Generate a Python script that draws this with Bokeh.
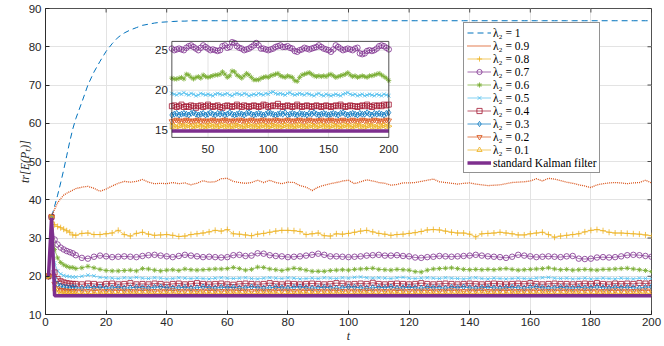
import math
from bokeh.plotting import figure
from bokeh.models import Range1d, FixedTicker
from bokeh.embed import file_html
from bokeh.resources import INLINE
from bokeh.core.properties import value

# ---------------- data ----------------
t = [1, 2, 3, 4, 5, 6, 7, 8, 9, 10] + list(range(12, 201, 2))

lam_10 = [20, 35.5, 38.3, 41.2, 44.4, 47.8, 51.5, 55.2, 58.5, 61.2,
          65.5, 70.0, 73.4, 76.2, 78.8, 80.8, 82.5, 83.6, 84.4, 85.0,
          85.6, 85.9, 86.2, 86.4, 86.5, 86.6, 86.7, 86.7, 86.8, 86.8,
          86.8, 86.8, 86.8, 86.8, 86.8, 86.8, 86.8, 86.8, 86.8, 86.8,
          86.8, 86.8, 86.8, 86.8, 86.8, 86.8, 86.8, 86.8, 86.8, 86.8,
          86.8, 86.8, 86.8, 86.8, 86.8, 86.8, 86.8, 86.8, 86.8, 86.8,
          86.8, 86.8, 86.8, 86.8, 86.8, 86.8, 86.8, 86.8, 86.8, 86.8,
          86.8, 86.8, 86.8, 86.8, 86.8, 86.8, 86.8, 86.8, 86.8, 86.8,
          86.8, 86.8, 86.8, 86.8, 86.8, 86.8, 86.8, 86.8, 86.8, 86.8,
          86.8, 86.8, 86.8, 86.8, 86.8, 86.8, 86.8, 86.8, 86.8, 86.8,
          86.8, 86.8, 86.8, 86.8, 86.8]

lam_09 = [20, 35.5, 37.5, 39.2, 40.3, 41.2, 41.7, 42.1, 42.5, 42.9,
          43.3, 43.5, 43.0, 42.2, 42.8, 43.6, 44.3, 44.8, 44.6, 44.8,
          45.3, 44.6, 44.2, 44.3, 44.2, 44.5, 44.2, 44.4, 43.9, 44.3,
          45.0, 44.6, 44.7, 45.5, 45.6, 44.8, 44.5, 44.3, 44.5, 45.1,
          44.5, 45.1, 44.5, 44.2, 44.6, 44.5, 43.7, 43.3, 42.4, 43.3,
          43.8, 44.2, 44.5, 44.9, 45.1, 44.2, 44.7, 45.2, 44.9, 44.5,
          44.3, 43.8, 44.0, 44.4, 44.4, 44.5, 44.8, 45.1, 45.4, 44.7,
          44.5, 44.3, 44.1, 44.3, 44.4, 44.1, 43.9, 43.7, 43.8, 43.9,
          44.2, 44.5, 44.6, 44.7, 44.9, 45.5, 44.9, 45.6, 45.4, 45.0,
          44.6, 44.3, 43.9, 43.6, 43.2, 43.9, 44.2, 44.4, 44.5, 44.4,
          44.2, 44.4, 44.5, 45.1, 44.4]

lam_08 = [20, 35.5, 33.5, 33.0, 32.7, 32.3, 31.9, 31.5, 30.8, 30.7,
          31.2, 31.3, 30.9, 30.9, 31.1, 31.3, 32.0, 30.9, 30.5, 31.2,
          31.5, 31.0, 30.7, 30.8, 30.9, 30.7, 30.4, 30.5, 30.9, 31.1,
          31.3, 31.6, 32.0, 31.8, 32.2, 31.1, 31.0, 30.8, 30.6, 31.0,
          31.2, 31.5, 31.8, 32.0, 32.0, 31.9, 31.7, 30.9, 31.1, 31.3,
          30.6, 30.5, 31.1, 31.0, 31.2, 31.5, 31.8, 32.0, 31.6, 31.2,
          31.0, 30.7, 30.9, 31.0, 31.2, 31.4, 31.7, 32.1, 32.2, 32.1,
          31.8, 31.5, 31.3, 31.3, 31.0, 30.3, 31.1, 31.2, 31.3, 31.5,
          31.3, 31.1, 30.8, 30.8, 31.1, 31.3, 31.5, 30.9, 30.2, 30.5,
          30.7, 30.9, 31.1, 31.6, 32.0, 32.2, 31.9, 31.5, 31.3, 31.3,
          31.2, 31.1, 31.0, 30.8, 30.6]

lam_07 = [20, 35.5, 29.6, 28.3, 27.5, 27.0, 26.6, 26.3, 26.0, 25.5,
          24.8, 24.6, 25.1, 25.4, 25.2, 25.0, 25.1, 25.2, 25.1, 25.0,
          25.3, 25.5, 25.6, 25.4, 25.2, 25.0, 25.3, 25.6, 25.4, 25.2,
          25.0, 25.1, 25.0, 24.9, 25.0, 25.5, 25.6, 25.3, 25.4, 26.0,
          25.9, 25.5, 25.3, 25.2, 25.0, 25.1, 25.2, 25.4, 25.6, 25.9,
          25.6, 25.2, 25.2, 25.1, 25.0, 25.1, 25.2, 25.4, 25.5, 25.6,
          25.4, 25.4, 25.5, 25.3, 25.2, 24.9, 24.8, 25.0, 25.1, 25.3,
          25.2, 25.1, 25.2, 25.3, 25.4, 25.6, 25.4, 25.2, 25.1, 25.0,
          24.8, 25.1, 25.6, 25.4, 25.2, 25.0, 25.1, 25.2, 25.1, 25.0,
          25.2, 25.3, 24.6, 24.5, 24.6, 24.9, 25.0, 24.9, 25.0, 25.2,
          25.5, 25.6, 25.5, 25.3, 25.1]

lam_06 = [20, 35.5, 27.0, 24.8, 23.6, 23.0, 22.6, 22.3, 22.3, 22.0,
          22.2, 22.6, 22.2, 21.8, 21.5, 21.4, 21.4, 21.5, 21.6, 21.4,
          22.0, 21.9, 21.6, 21.4, 21.6, 21.7, 21.5, 21.9, 21.7, 21.6,
          21.7, 21.8, 21.9, 21.9, 22.0, 22.3, 22.0, 21.6, 21.8, 22.4,
          22.3, 21.9, 21.7, 21.5, 21.8, 22.1, 21.9, 21.6, 21.3, 21.3,
          21.3, 21.5, 21.6, 21.7, 21.6, 21.8, 21.9, 22.0, 22.1, 21.8,
          21.7, 21.6, 21.8, 21.7, 21.6, 21.2, 21.1, 21.6, 21.9, 22.0,
          22.1, 22.2, 22.0, 21.8, 21.7, 21.8, 21.7, 21.8, 21.7, 21.9,
          22.0, 21.8, 21.6, 21.7, 21.8, 21.9, 22.0, 22.2, 21.9, 21.7,
          21.8, 21.6, 21.7, 21.8, 21.7, 21.6, 21.8, 21.8, 21.9, 22.0,
          22.1, 21.9, 21.7, 21.5, 21.2]

lam_05 = [20, 35.5, 23.5, 21.4, 20.6, 20.2, 20.0, 19.9, 19.8, 19.8,
          20.0, 20.3, 20.1, 19.7, 19.6, 19.5, 19.4, 19.6, 19.5, 19.7,
          19.5, 19.4, 19.6, 19.5, 19.3, 19.4, 19.6, 19.5, 19.4, 19.5,
          19.4, 19.3, 19.5, 19.6, 19.5, 19.4, 19.5, 19.6, 19.4, 19.3,
          19.5, 19.6, 19.5, 19.4, 19.6, 19.5, 19.3, 19.4, 19.5, 19.4,
          19.6, 19.5, 19.4, 19.6, 19.5, 19.7, 19.8, 19.6, 19.5, 19.6,
          19.5, 19.4, 19.6, 19.7, 19.5, 19.4, 19.5, 19.6, 19.5, 19.4,
          19.6, 19.5, 19.4, 19.3, 19.5, 19.6, 19.4, 19.3, 19.5, 19.4,
          19.3, 19.4, 19.5, 19.4, 19.3, 19.5, 19.6, 19.7, 19.5, 19.4,
          19.5, 19.3, 19.4, 19.5, 19.3, 19.4, 19.5, 19.4, 19.3, 19.5,
          19.4, 19.3, 19.5, 19.4, 19.3]

lam_04 = [20, 35.5, 21.0, 19.3, 18.7, 18.4, 18.2, 18.1, 18.0, 18.0,
          17.9, 18.1, 18.0, 17.8, 18.0, 18.1, 17.9, 18.0, 18.2, 17.9,
          18.0, 17.9, 18.1, 18.0, 17.8, 18.0, 18.1, 17.9, 18.0, 18.2,
          18.0, 17.9, 18.0, 18.1, 17.9, 17.8, 18.0, 18.1, 18.0, 17.9,
          18.0, 18.2, 18.0, 17.9, 18.1, 18.0, 17.9, 18.0, 18.1, 18.0,
          17.9, 18.0, 18.2, 18.1, 17.9, 18.0, 18.1, 18.0, 18.3, 18.0,
          17.9, 18.0, 18.1, 18.0, 17.9, 18.0, 18.2, 18.0, 17.9, 18.0,
          18.1, 18.0, 17.9, 18.0, 18.1, 18.0, 17.9, 18.0, 18.1, 18.0,
          17.9, 18.0, 18.1, 18.0, 18.2, 18.0, 17.9, 18.0, 18.1, 18.0,
          18.0, 17.9, 18.0, 18.1, 18.0, 18.2, 18.0, 17.9, 18.1, 18.0,
          18.1, 18.0, 18.2, 18.1, 18.2]

lam_03 = [20, 35.5, 19.5, 17.9, 17.4, 17.2, 17.1, 17.0, 17.1, 17.0,
          16.9, 17.1, 17.0, 17.2, 16.9, 17.0, 17.1, 16.9, 17.0, 17.1,
          17.0, 16.9, 17.1, 17.2, 17.0, 16.9, 17.0, 17.1, 16.9, 17.0,
          17.2, 17.0, 16.9, 17.1, 17.0, 17.1, 16.9, 17.0, 17.2, 17.0,
          16.9, 17.0, 17.1, 17.0, 16.9, 17.1, 17.2, 17.0, 16.9, 17.0,
          17.1, 17.0, 16.9, 17.0, 17.2, 17.1, 17.0, 16.9, 17.0, 17.1,
          17.0, 17.2, 16.9, 17.0, 17.1, 17.0, 16.9, 17.1, 17.0, 17.0,
          16.9, 17.1, 17.0, 17.2, 17.0, 16.9, 17.0, 17.1, 17.0, 16.9,
          17.0, 17.1, 17.0, 16.9, 17.1, 17.2, 17.0, 16.9, 17.0, 17.1,
          17.0, 16.9, 17.1, 17.0, 17.0, 17.2, 17.0, 16.9, 17.1, 17.0,
          17.1, 17.0, 16.9, 17.1, 17.2]

lam_02 = [20, 35.5, 18.0, 16.8, 16.4, 16.3, 16.2, 16.2, 16.1, 16.2,
          16.2, 16.1, 16.3, 16.2, 16.1, 16.2, 16.3, 16.2, 16.1, 16.2,
          16.3, 16.2, 16.1, 16.2, 16.2, 16.3, 16.1, 16.2, 16.2, 16.1,
          16.2, 16.3, 16.2, 16.1, 16.2, 16.2, 16.3, 16.2, 16.1, 16.2,
          16.2, 16.1, 16.3, 16.2, 16.2, 16.1, 16.2, 16.3, 16.2, 16.1,
          16.2, 16.2, 16.3, 16.1, 16.2, 16.2, 16.1, 16.3, 16.2, 16.2,
          16.1, 16.2, 16.3, 16.2, 16.1, 16.2, 16.2, 16.3, 16.2, 16.1,
          16.2, 16.3, 16.2, 16.1, 16.2, 16.2, 16.3, 16.1, 16.2, 16.2,
          16.3, 16.2, 16.1, 16.2, 16.2, 16.3, 16.2, 16.1, 16.2, 16.3,
          16.2, 16.1, 16.2, 16.3, 16.2, 16.2, 16.1, 16.2, 16.3, 16.2,
          16.2, 16.1, 16.2, 16.3, 16.2]

lam_01 = [20, 35.5, 16.8, 15.8, 15.6, 15.5, 15.5, 15.5, 15.5, 15.5,
          15.5, 15.4, 15.5, 15.6, 15.5, 15.5, 15.4, 15.5, 15.6, 15.5,
          15.5, 15.6, 15.4, 15.5, 15.5, 15.6, 15.5, 15.4, 15.5, 15.5,
          15.6, 15.5, 15.5, 15.4, 15.5, 15.6, 15.5, 15.5, 15.4, 15.5,
          15.5, 15.6, 15.5, 15.4, 15.5, 15.5, 15.6, 15.5, 15.5, 15.4,
          15.5, 15.5, 15.6, 15.5, 15.4, 15.5, 15.6, 15.5, 15.5, 15.4,
          15.5, 15.6, 15.5, 15.5, 15.4, 15.5, 15.5, 15.6, 15.5, 15.4,
          15.5, 15.5, 15.6, 15.5, 15.4, 15.5, 15.6, 15.5, 15.5, 15.4,
          15.5, 15.6, 15.5, 15.4, 15.5, 15.5, 15.6, 15.5, 15.4, 15.5,
          15.5, 15.6, 15.5, 15.5, 15.4, 15.5, 15.6, 15.5, 15.5, 15.4,
          15.5, 15.5, 15.6, 15.5, 15.5]

kalman = [20, 35.3, 14.9, 14.9, 14.9, 14.9, 14.9, 14.9, 14.9, 14.9,
          14.9, 14.9, 14.9, 14.9, 14.9, 14.9, 14.9, 14.9, 14.9, 14.9,
          14.9, 14.9, 14.9, 14.9, 14.9, 14.9, 14.9, 14.9, 14.9, 14.9,
          14.9, 14.9, 14.9, 14.9, 14.9, 14.9, 14.9, 14.9, 14.9, 14.9,
          14.9, 14.9, 14.9, 14.9, 14.9, 14.9, 14.9, 14.9, 14.9, 14.9,
          14.9, 14.9, 14.9, 14.9, 14.9, 14.9, 14.9, 14.9, 14.9, 14.9,
          14.9, 14.9, 14.9, 14.9, 14.9, 14.9, 14.9, 14.9, 14.9, 14.9,
          14.9, 14.9, 14.9, 14.9, 14.9, 14.9, 14.9, 14.9, 14.9, 14.9,
          14.9, 14.9, 14.9, 14.9, 14.9, 14.9, 14.9, 14.9, 14.9, 14.9,
          14.9, 14.9, 14.9, 14.9, 14.9, 14.9, 14.9, 14.9, 14.9, 14.9,
          14.9, 14.9, 14.9, 14.9, 14.9]

labels = ["λ₂ = 1", "λ₂ = 0.9", "λ₂ = 0.8", "λ₂ = 0.7", "λ₂ = 0.6",
          "λ₂ = 0.5", "λ₂ = 0.4", "λ₂ = 0.3", "λ₂ = 0.2", "λ₂ = 0.1",
          "standard Kalman filter"]

x_ticks = [0, 20, 40, 60, 80, 100, 120, 140, 160, 180, 200]
y_ticks = [10, 20, 30, 40, 50, 60, 70, 80, 90]
inset_x_ticks = [50, 100, 150, 200]
inset_y_ticks = [15, 20, 25]
inset_xlim = (20, 200)
inset_ylim = (14.1, 26.1)

# ---------------- styles ----------------
BLUE, ORANGE, YELLOW = "#0072BD", "#D95319", "#EDB120"
PURPLE, GREEN, CYAN, RED = "#7E2F8E", "#77AC30", "#4DBEEE", "#A2142F"
AX = "#262626"
GRID = "#e3e3e3"
SANS = "Liberation Sans"
SERIF = "Liberation Serif"

series = [
    # data, color, dash, width, marker, size, angle
    (lam_10, BLUE, "6 4", 1.0, None, 0, 0),
    (lam_09, ORANGE, "1 1", 1.3, None, 0, 0),
    (lam_08, YELLOW, "solid", 0.7, "cross", 6, 0),
    (lam_07, PURPLE, "solid", 0.7, "circle", 5.5, 0),
    (lam_06, GREEN, "solid", 0.7, "asterisk", 5, 0),
    (lam_05, CYAN, "solid", 0.7, "x", 5, 0),
    (lam_04, RED, "solid", 0.7, "square", 5, 0),
    (lam_03, BLUE, "solid", 0.7, "diamond", 6, 0),
    (lam_02, ORANGE, "solid", 0.7, "inverted_triangle", 5.5, 0),
    (lam_01, YELLOW, "solid", 0.7, "triangle", 5.5, -math.pi / 2),
    (kalman, PURPLE, "solid", 3.5, None, 0, 0),
]

p = figure(width=664, height=346, output_backend="svg", toolbar_location=None,
           x_range=Range1d(0, 200), y_range=Range1d(10, 90),
           min_border_left=45, min_border_right=13, min_border_top=8,
           min_border_bottom=32)
p.background_fill_color = "white"
p.border_fill_color = "white"
p.outline_line_color = AX
p.outline_line_width = 0.8

p.xaxis.ticker = FixedTicker(ticks=x_ticks)
p.yaxis.ticker = FixedTicker(ticks=y_ticks)
for ax in (p.xaxis[0], p.yaxis[0]):
    ax.axis_line_color = AX
    ax.axis_line_width = 0.8
    ax.major_tick_line_color = AX
    ax.major_tick_in = 4
    ax.major_tick_out = 0
    ax.minor_tick_line_color = None
    ax.major_label_text_font = SANS
    ax.major_label_text_font_size = "11.5px"
    ax.major_label_text_color = AX
    ax.axis_label_text_font = SERIF
    ax.axis_label_text_font_style = "italic"
    ax.axis_label_text_font_size = "12px"
    ax.axis_label_text_color = AX
p.xaxis.major_label_standoff = 3
p.yaxis.major_label_standoff = 4
p.xaxis.axis_label = "t"
p.yaxis.axis_label = "tr[E(Pₜ)]"
p.xaxis.axis_label_standoff = 0
p.yaxis.axis_label_standoff = -6
p.xgrid.grid_line_color = GRID
p.ygrid.grid_line_color = GRID

# box ticks on the right and top edges, pointing inward (4 screen px)
p.ray(x=[x_ticks[-1]] * len(y_ticks), y=y_ticks, length=4, length_units="screen",
      angle=math.pi, line_color=AX, line_width=0.8)
p.ray(x=x_ticks, y=[y_ticks[-1]] * len(x_ticks), length=4, length_units="screen",
      angle=-math.pi / 2, line_color=AX, line_width=0.8)

for (y, col, dash, w, mk, sz, ang), lab in zip(series, labels):
    p.line(t, y, line_color=col, line_width=w, line_dash=dash, legend_label=lab)
    if mk:
        p.scatter(t, y, marker=mk, size=sz, angle=ang, line_color=col,
                  line_width=0.8, fill_color=None, legend_label=lab)

# ---------------- inset ----------------
sub = p.subplot(x_source=Range1d(*inset_xlim), y_source=Range1d(*inset_ylim),
                x_target=Range1d(41.7, 113.3), y_target=Range1d(56.3, 81.4))
sub.quad(left=[inset_xlim[0]], right=[inset_xlim[1]], bottom=[inset_ylim[0]],
         top=[inset_ylim[1]], fill_color="white", line_color=None)
sub.segment(x0=inset_x_ticks[:-1], x1=inset_x_ticks[:-1],
            y0=[inset_ylim[0]] * 3, y1=[inset_ylim[1]] * 3,
            line_color=GRID, line_width=1)
sub.segment(x0=[inset_xlim[0]] * 3, x1=[inset_xlim[1]] * 3,
            y0=inset_y_ticks, y1=inset_y_ticks, line_color=GRID, line_width=1)

idx = [i for i, tv in enumerate(t) if tv >= inset_xlim[0]]
ti = [t[i] for i in idx]
for (y, col, dash, w, mk, sz, ang) in series[3:]:
    yi = [y[i] for i in idx]
    sub.line(ti, yi, line_color=col, line_width=w, line_dash=dash)
    if mk:
        sub.scatter(ti, yi, marker=mk, size=sz, angle=ang, line_color=col,
                    line_width=0.8, fill_color=None)

sub.quad(left=[inset_xlim[0]], right=[inset_xlim[1]], bottom=[inset_ylim[0]],
         top=[inset_ylim[1]], fill_color=None, line_color=AX, line_width=0.8)
sub.text(x=inset_x_ticks, y=[inset_ylim[0]] * len(inset_x_ticks),
         text=[str(v) for v in inset_x_ticks], text_align="center",
         text_baseline="middle", y_offset=12, text_font=value(SANS),
         text_font_size="11.5px", text_color=AX)
sub.text(x=[inset_xlim[0]] * len(inset_y_ticks), y=inset_y_ticks,
         text=[str(v) for v in inset_y_ticks], text_align="right",
         text_baseline="middle", x_offset=-4, text_font=value(SANS),
         text_font_size="11.5px", text_color=AX)

# ---------------- legend ----------------
lg = p.legend[0]
lg.location = (418, 141)
lg.label_text_font = SERIF
lg.label_text_font_size = "11.5px"
lg.label_text_color = "black"
lg.label_height = 13
lg.glyph_height = 13
lg.glyph_width = 24
lg.label_standoff = 2
lg.spacing = 0
lg.padding = 3
lg.margin = 0
lg.border_line_color = AX
lg.border_line_width = 0.8
lg.background_fill_alpha = 1.0

open("out.html", "w").write(file_html(p, INLINE))
